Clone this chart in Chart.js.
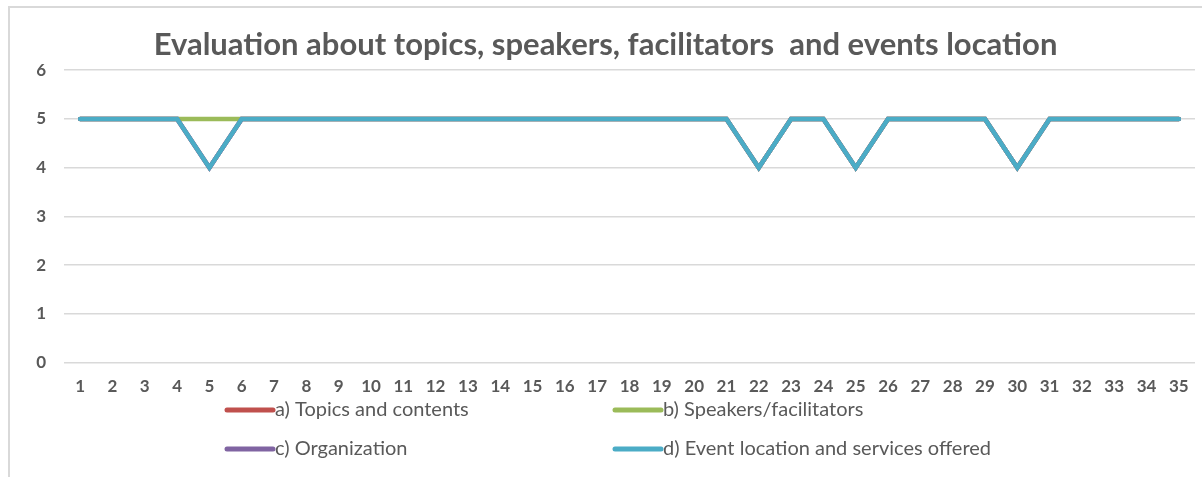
<!DOCTYPE html>
<html>
<head>
<meta charset="utf-8">
<script src="https://cdn.jsdelivr.net/npm/chart.js@4.4.1/dist/chart.umd.min.js"></script>
<style>
  html, body { margin: 0; padding: 0; background: #fff; }
  #wrap { position: relative; width: 1202px; height: 477px; }
  #frame { position: absolute; left: 8px; top: 6px; right: -2px; bottom: -2px;
           border-left: 2px solid #d9d9d9; border-top: 2px solid #d9d9d9; }
  canvas { position: absolute; left: 0; top: 0; }
</style>
</head>
<body>
<div id="wrap">
  <div id="frame"></div>
  <canvas id="myChart" width="1202" height="477"></canvas>
</div>
<script>
const labels = ['1','2','3','4','5','6','7','8','9','10','11','12','13','14','15','16','17','18',
  '19','20','21','22','23','24','25','26','27','28','29','30','31','32','33','34','35'];
const seriesNames = ['a) Topics and contents', 'b) Speakers/facilitators',
  'c) Organization', 'd) Event location and services offered'];
const topics       = [5,5,5,5,4,5,5,5,5,5,5,5,5,5,5,5,5,5,5,5,5,4,5,5,4,5,5,5,5,4,5,5,5,5,5];
const speakers     = [5,5,5,5,5,5,5,5,5,5,5,5,5,5,5,5,5,5,5,5,5,4,5,5,4,5,5,5,5,4,5,5,5,5,5];
const organization = [5,5,5,5,4,5,5,5,5,5,5,5,5,5,5,5,5,5,5,5,5,4,5,5,4,5,5,5,5,4,5,5,5,5,5];
const venue        = [5,5,5,5,4,5,5,5,5,5,5,5,5,5,5,5,5,5,5,5,5,4,5,5,4,5,5,5,5,4,5,5,5,5,5];
const colors = ['#C0504D', '#9BBB59', '#8064A2', '#4BACC6'];
const yTicks = [0, 1, 2, 3, 4, 5, 6];

const textColor = '#595959';
const fontFam = 'Lato, "Open Sans", sans-serif';

// two-column legend drawn under the axis
const gridLegend = {
    id: 'gridLegend',
    afterDraw(chart) {
        const ctx = chart.ctx;
        const cols = [224, 612];
        const rows = [410, 449];
        ctx.save();
        ctx.font = '20px ' + fontFam;
        ctx.textBaseline = 'middle';
        chart.data.datasets.forEach((ds, i) => {
            const x = cols[i % 2];
            const y = rows[Math.floor(i / 2)];
            ctx.strokeStyle = ds.borderColor;
            ctx.lineWidth = 5;
            ctx.lineCap = 'round';
            ctx.beginPath();
            ctx.moveTo(x + 3, y);
            ctx.lineTo(x + 49, y);
            ctx.stroke();
            ctx.fillStyle = textColor;
            ctx.fillText(ds.label, x + 51, y);
        });
        ctx.restore();
    }
};

const ctx = document.getElementById('myChart').getContext('2d');
const allData = [topics, speakers, organization, venue];

new Chart(ctx, {
    type: 'line',
    data: {
        labels: labels,
        datasets: allData.map((d, i) => ({
            label: seriesNames[i],
            data: d,
            borderColor: colors[i],
            backgroundColor: colors[i],
            borderWidth: 4.5,
            pointRadius: 0,
            tension: 0,
            borderCapStyle: 'round',
            borderJoinStyle: 'miter',
            order: 4 - i
        }))
    },
    plugins: [gridLegend],
    options: {
        responsive: false,
        animation: false,
        layout: { padding: { left: 16, right: 7, top: 0, bottom: 74 } },
        plugins: {
            legend: { display: false },
            tooltip: { enabled: false },
            title: {
                display: true,
                text: 'Evaluation about topics, speakers, facilitators  and events location',
                color: textColor,
                font: { family: fontFam, size: 31, weight: 'bold' },
                padding: { top: 26, bottom: 7 }
            }
        },
        scales: {
            x: {
                offset: true,
                grid: { display: false },
                border: { display: false },
                ticks: {
                    color: textColor,
                    font: { family: fontFam, size: 17, weight: 'bold' },
                    maxRotation: 0,
                    autoSkip: false,
                    padding: 6
                }
            },
            y: {
                min: 0,
                max: 6,
                afterFit: (s) => { s.width = 48; },
                afterBuildTicks: (s) => { s.ticks = yTicks.map(v => ({ value: v })); },
                grid: { color: '#d9d9d9', lineWidth: 1.5, drawTicks: false },
                border: { display: false },
                ticks: {
                    color: textColor,
                    font: { family: fontFam, size: 17, weight: 'bold' },
                    padding: 18
                }
            }
        }
    }
});
</script>
</body>
</html>
